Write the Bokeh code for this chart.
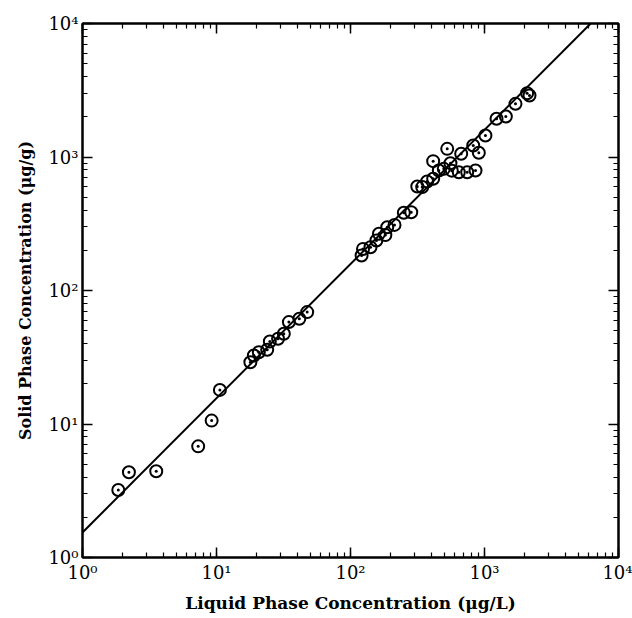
from bokeh.plotting import figure
from bokeh.models import LogAxis, LogTicker, Range1d
from bokeh.embed import file_html
from bokeh.resources import INLINE

# Observed isotherm data (liquid phase ug/L, solid phase ug/g)
liquid = [1.85, 2.22, 3.55, 7.3, 9.2, 10.6, 17.9, 19.0, 20.7, 23.9, 25.0, 28.8,
          31.8, 34.7, 41.5, 47.5, 121, 124, 141, 156, 163, 182, 188, 213, 250,
          284, 315, 343, 373, 414, 414, 456, 497, 527, 557, 570, 643, 670, 743,
          824, 857, 907, 1016, 1230, 1443, 1703, 2080, 2167]
solid = [3.2, 4.35, 4.43, 6.8, 10.6, 18.0, 29.0, 32.6, 34.5, 36.0, 41.5, 43.5,
         47.4, 58.0, 61.5, 68.9, 183, 205, 211, 237, 266, 260, 298, 310, 382,
         386, 601, 595, 655, 687, 931, 792, 815, 1151, 899, 790, 769, 1057, 769,
         1220, 792, 1075, 1450, 1932, 2011, 2502, 3006, 2890]

# Fitted isotherm line (read endpoints)
fit_x = [1.0, 6200.0]
fit_y = [1.54, 10000.0]

tick_values = [1, 10, 100, 1000, 10000]
tick_labels = ["10\u2070", "10\u00b9", "10\u00b2", "10\u00b3", "10\u2074"]

x_title = "Liquid Phase Concentration (\u03bcg/L)"
y_title = "Solid Phase Concentration (\u03bcg/g)"

FONT = "DejaVu Serif"

p = figure(x_axis_type="log", y_axis_type="log",
           x_range=Range1d(1, 1e4), y_range=Range1d(1, 1e4),
           frame_width=536, frame_height=534,
           min_border_left=82, min_border_right=14,
           min_border_top=23, min_border_bottom=61,
           output_backend="svg", toolbar_location=None)

p.xgrid.visible = False
p.ygrid.visible = False
p.outline_line_color = "black"
p.outline_line_width = 2
p.background_fill_color = "white"
p.border_fill_color = "white"

overrides = {v: s for v, s in zip(tick_values, tick_labels)}


def style_axis(ax, labels=True):
    ax.ticker = LogTicker(num_minor_ticks=10)
    ax.axis_line_width = 2
    ax.axis_line_color = "black"
    ax.major_tick_in = 10
    ax.major_tick_out = 0
    ax.minor_tick_in = 5
    ax.minor_tick_out = 0
    ax.major_tick_line_width = 1.5
    ax.minor_tick_line_width = 1.2
    ax.major_label_overrides = overrides
    ax.major_label_text_font = FONT
    if labels:
        ax.major_label_text_font_size = "18px"
        ax.major_label_text_color = "black"
        ax.major_label_standoff = 4
    else:
        ax.major_label_text_font_size = "6px"
        ax.major_label_text_alpha = 0
        ax.major_label_standoff = 0


style_axis(p.xaxis[0])
style_axis(p.yaxis[0])
p.xaxis[0].axis_label = x_title
p.yaxis[0].axis_label = y_title
for ax in (p.xaxis[0], p.yaxis[0]):
    ax.axis_label_text_font = FONT
    ax.axis_label_text_font_style = "bold"
    ax.axis_label_text_color = "black"
p.xaxis[0].axis_label_text_font_size = "17px"
p.yaxis[0].axis_label_text_font_size = "16px"
p.xaxis[0].axis_label_standoff = 7
p.yaxis[0].axis_label_standoff = 10

top = LogAxis()
right = LogAxis()
style_axis(top, labels=False)
style_axis(right, labels=False)
p.add_layout(top, "above")
p.add_layout(right, "right")

p.line(fit_x, fit_y, line_color="black", line_width=2)
p.scatter(liquid, solid, marker="circle_dot", size=12, line_color="black",
          line_width=2, fill_color=None)

open("out.html", "w").write(file_html(p, INLINE))
